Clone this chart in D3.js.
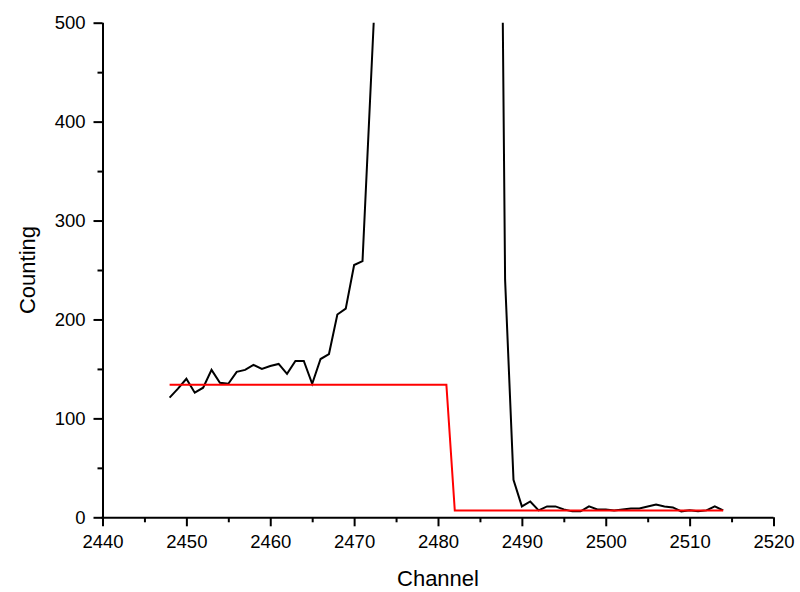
<!DOCTYPE html>
<html><head><meta charset="utf-8">
<script src="https://cdn.jsdelivr.net/npm/d3@7"></script>
<style>body{margin:0;background:#fff} svg{display:block} text{font-family:Arial,"Liberation Sans",sans-serif;fill:#000}</style>
</head><body><svg id="c" width="800" height="592"></svg>
<script>
// Measured spectrum (channel -> counts); peak top 2474-2486 is off-scale (estimated)
const channels = [2448,2449,2450,2451,2452,2453,2454,2455,2456,2457,2458,2459,2460,2461,2462,2463,2464,2465,2466,2467,2468,2469,2470,2471,2472,2473,2474,2475,2476,2477,2478,2479,2480,2481,2482,2483,2484,2485,2486,2487,2488,2489,2490,2491,2492,2493,2494,2495,2496,2497,2498,2499,2500,2501,2502,2503,2504,2505,2506,2507,2508,2509,2510,2511,2512,2513,2514];
const counts = [121,130,140,126,131,149,136,135,147,149,154,150,153,155,145,158,158,135,160,165,205,211,255,259,440,620,980,1600,2400,3300,4000,4300,4200,3800,3200,2700,2200,1800,1480,1190,240,38,11,16,7,11,11,8,6,6,11,8,8,7,8,9,9,11,13,11,10,6,7,6,7,11,7];
// Step fit (red)
const fitChannels = [2448, 2481, 2482, 2514];
const fitCounts = [134, 134, 7, 7];
// Axes
const xTicks = [2440,2450,2460,2470,2480,2490,2500,2510,2520];
const yTicks = [0,100,200,300,400,500];
const xMinor = [2445,2455,2465,2475,2485,2495,2505,2515];
const yMinor = [50,150,250,350,450];

const svg = d3.select('#c');
const L = 102.5, R = 773.5, T = 22.7, B = 517.3;
const x = d3.scaleLinear().domain([2440,2520]).range([L,R]);
const y = d3.scaleLinear().domain([0,500]).range([B,T]);

svg.append('clipPath').attr('id','clip').append('rect')
  .attr('x',L).attr('y',T).attr('width',R-L).attr('height',B-T);

const line = d3.line().x(d=>x(d[0])).y(d=>y(d[1]));
svg.append('path').attr('clip-path','url(#clip)')
  .datum(channels.map((c,i)=>[c,counts[i]]))
  .attr('d',line).attr('fill','none').attr('stroke','#000').attr('stroke-width',2).attr('stroke-linejoin','miter');
svg.append('path')
  .datum(fitChannels.map((c,i)=>[c,fitCounts[i]]))
  .attr('d',line).attr('fill','none').attr('stroke','#ff0000').attr('stroke-width',2);

// X axis
const gx = svg.append('g').attr('transform',`translate(0,${B})`);
gx.call(d3.axisBottom(x).tickValues(xTicks).tickFormat(d3.format('d')).tickSize(9).tickPadding(9));
gx.append('g').call(d3.axisBottom(x).tickValues(xMinor).tickSize(5).tickFormat(''));
// Y axis
const gy = svg.append('g').attr('transform',`translate(${L},0)`);
gy.call(d3.axisLeft(y).tickValues(yTicks).tickSize(9).tickPadding(8));
gy.append('g').call(d3.axisLeft(y).tickValues(yMinor).tickSize(5).tickFormat(''));

svg.selectAll('.domain').attr('stroke','#000').attr('stroke-width',2);
svg.selectAll('.tick line').attr('stroke','#000').attr('stroke-width',2);
svg.selectAll('g').selectAll('.domain').attr('d', function(){ return d3.select(this).attr('d'); });
gx.select('.domain').attr('d',`M${L-1},0.5H${R}`);
gy.select('.domain').attr('d',`M0.5,${B}V${T}`);
gx.selectAll('g g .domain').remove();
gy.selectAll('g g .domain').remove();
svg.selectAll('.tick text').attr('font-size','18.5px').attr('font-family','Arial,"Liberation Sans",sans-serif').attr('fill','#000');

svg.append('text').attr('x',(L+R)/2).attr('y',586).attr('text-anchor','middle')
  .attr('font-size','22px').text('Channel');
svg.append('text').attr('transform',`translate(35,${(T+B)/2}) rotate(-90)`).attr('text-anchor','middle')
  .attr('font-size','22px').text('Counting');
</script></body></html>
